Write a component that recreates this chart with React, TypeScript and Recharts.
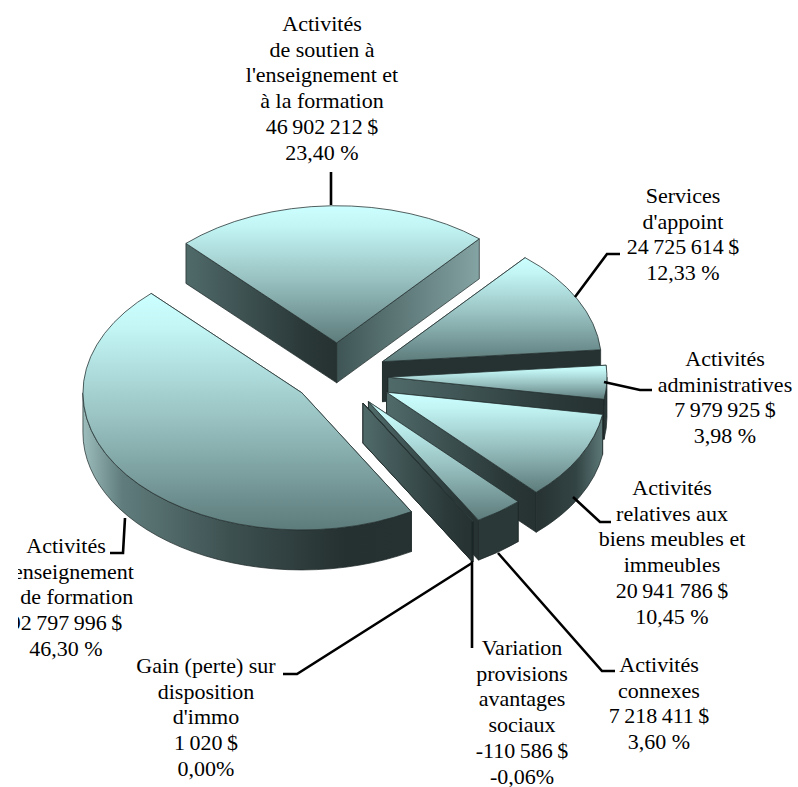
import { PieChart, Pie } from "recharts";

const categories = [
  ["Activités", "de soutien à", "l'enseignement et", "à la formation"],
  ["Services", "d'appoint"],
  ["Activités", "administratives"],
  ["Activités", "relatives aux", "biens meubles et", "immeubles"],
  ["Activités", "connexes"],
  ["Variation", "provisions", "avantages", "sociaux"],
  ["Gain (perte) sur", "disposition", "d'immo"],
  ["Activités", "d'enseignement", "et de formation"],
];
const amounts = [46902212, 24725614, 7979925, 20941786, 7218411, -110586, 1020, 92797996];
const percents = ["23,40 %", "12,33 %", "3,98 %", "10,45 %", "3,60 %", "-0,06%", "0,00%", "46,30 %"];

// how far each slice is pulled out of the pie
const explode = [53, 50, 50, 55, 51, 50, 50, 45];

// label centre, first baseline, leader line
const labelLayout = [
  { x: 322, y: 31, line: "331,172 331,205" },
  { x: 683, y: 203, line: "575,297 607,254 620,254" },
  { x: 725, y: 366, line: "604,382 640,390 652,390" },
  { x: 672, y: 495, line: "573,497 600,522 611,522" },
  { x: 659, y: 672, line: "498,553 602,671 615,671" },
  { x: 522, y: 655, line: "472,561 472,648" },
  { x: 206, y: 673, line: "472,563 297,674 283,674" },
  { x: 66, y: 553, line: "125,518 123,553 110,553" },
];

const W = 798;
const H = 787;
const FLATTEN = 0.626;
const DEPTH = 40;
const LINE_H = 25.7;

const formatAmount = (v: number) =>
  `${v < 0 ? "-" : ""}${Math.abs(v).toString().replace(/\B(?=(\d{3})+(?!\d))/g, " ")} $`;

const table = amounts.map((v, i) => ({ name: categories[i].join(" "), share: Math.abs(v), slot: i }));

const Slice = (props: any) => {
  const { cx, cy, outerRadius: r, startAngle, endAngle, midAngle, payload } = props;
  const row = payload?.payload ?? payload;
  const pull = explode[row.slot];
  const a = 90 - startAngle;
  const b = 90 - endAngle;
  const rad = (d: number) => (d * Math.PI) / 180;
  const ry = r * FLATTEN;
  const ax = cx + pull * Math.sin(rad(90 - midAngle));
  const ay = cy - pull * FLATTEN * Math.cos(rad(90 - midAngle));
  const rimX = (d: number) => ax + r * Math.sin(rad(d));
  const rimY = (d: number) => ay - ry * Math.cos(rad(d));
  const large = b - a > 180 ? 1 : 0;

  const radial = (d: number) =>
    `M${ax},${ay} L${rimX(d)},${rimY(d)} L${rimX(d)},${rimY(d) + DEPTH} L${ax},${ay + DEPTH} Z`;

  const lo = Math.max(a, 90);
  const hi = Math.min(b, 270);
  const outer =
    hi > lo
      ? `M${rimX(lo)},${rimY(lo)} A${r},${ry} 0 0 1 ${rimX(hi)},${rimY(hi)} L${rimX(hi)},${rimY(hi) + DEPTH} A${r},${ry} 0 0 0 ${rimX(lo)},${rimY(lo) + DEPTH} Z`
      : null;

  const endFill = b < 60 ? "url(#wallB)" : b > 75 && b < 95 ? "#263131" : "url(#wallA)";
  const outerFill = lo >= 145 ? "url(#wallBig)" : hi - lo < 20 ? "#2b3838" : "url(#wallC)";
  const edge = { stroke: "#1d2727", strokeWidth: 0.7 };

  return (
    <g>
      <path d={radial(a)} fill="url(#wallA)" {...edge} />
      <path d={radial(b)} fill={endFill} {...edge} />
      {outer && <path d={outer} fill={outerFill} {...edge} />}
      <path
        d={`M${ax},${ay} L${rimX(a)},${rimY(a)} A${r},${ry} 0 ${large} 1 ${rimX(b)},${rimY(b)} Z`}
        fill="url(#topFace)"
        stroke="#2a3636"
        strokeWidth={0.8}
      />
    </g>
  );
};

const SliceLabel = (props: any) => {
  const i = props.payload?.slot ?? props.index;
  const pos = labelLayout[i];
  const amountLine = categories[i].length;
  const lines = [...categories[i], formatAmount(amounts[i]), percents[i]];
  return (
    <g clipPath="url(#pageClip)">
      <polyline points={pos.line} fill="none" stroke="#000" strokeWidth={2.6} />
      <text
        x={pos.x}
        y={pos.y}
        textAnchor="middle"
        fontFamily="'Liberation Serif', serif"
        fontSize={22}
        fill="#000"
      >
        {lines.map((t, k) => (
          <tspan key={k} x={pos.x} y={pos.y + k * LINE_H} wordSpacing={k === amountLine ? -1 : 0}>
            {t}
          </tspan>
        ))}
      </text>
    </g>
  );
};

export default function App() {
  return (
    <div style={{ position: "absolute", left: 0, top: 0, width: W, height: H, background: "#fff" }}>
      <PieChart width={W} height={H} margin={{ top: 0, right: 0, bottom: 0, left: 0 }}>
        <defs>
          <linearGradient id="topFace" x1="0" y1="0" x2="0" y2="1">
            <stop offset="0" stopColor="#ccffff" />
            <stop offset="0.15" stopColor="#c3f5f5" />
            <stop offset="0.55" stopColor="#97bfbf" />
            <stop offset="1" stopColor="#5d7b7b" />
          </linearGradient>
          <linearGradient id="wallA" x1="0" y1="0" x2="1" y2="0">
            <stop offset="0" stopColor="#506a6a" />
            <stop offset="0.75" stopColor="#2c3a3a" />
            <stop offset="1" stopColor="#263131" />
          </linearGradient>
          <linearGradient id="wallB" x1="0" y1="0" x2="1" y2="0">
            <stop offset="0" stopColor="#3f5555" />
            <stop offset="1" stopColor="#84a3a3" />
          </linearGradient>
          <linearGradient id="wallC" x1="0" y1="0" x2="1" y2="0">
            <stop offset="0" stopColor="#273232" />
            <stop offset="0.6" stopColor="#334444" />
            <stop offset="1" stopColor="#5c7777" />
          </linearGradient>
          <linearGradient id="wallBig" x1="0" y1="0" x2="1" y2="0">
            <stop offset="0" stopColor="#9dbdbd" />
            <stop offset="0.12" stopColor="#607c7c" />
            <stop offset="0.45" stopColor="#3d5050" />
            <stop offset="0.8" stopColor="#253030" />
            <stop offset="1" stopColor="#263131" />
          </linearGradient>
          <clipPath id="pageClip">
            <rect x={18} y={0} width={W} height={H} />
          </clipPath>
        </defs>
        <Pie
          data={table}
          dataKey="share"
          nameKey="name"
          cx={338}
          cy={376}
          innerRadius={0}
          outerRadius={219}
          startAngle={133.5}
          endAngle={-226.5}
          stroke="none"
          isAnimationActive={false}
          shape={Slice}
          label={SliceLabel}
          labelLine={false}
        />
      </PieChart>
    </div>
  );
}
